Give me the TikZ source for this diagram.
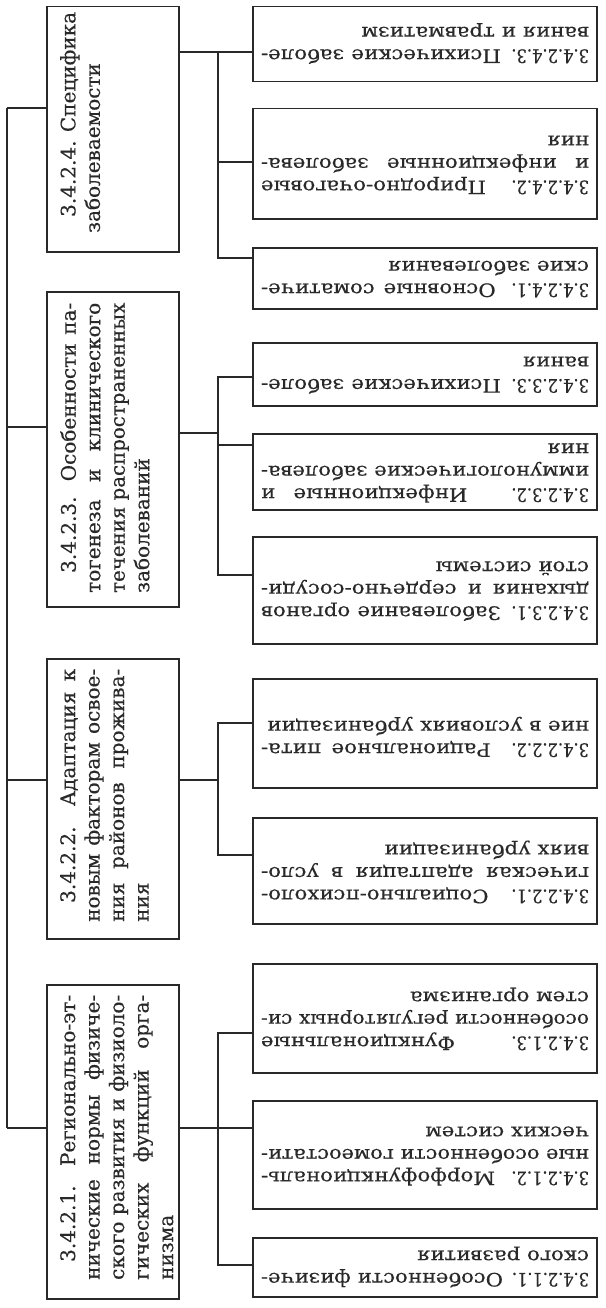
\documentclass[tikz,border=0pt]{standalone}
\usepackage{graphicx}
\usepackage{fontspec}
\setmainfont{DejaVu Serif}[FakeBold=0.35]
\newfontfamily\widef{DejaVu Serif}[FakeStretch=1.15, FakeBold=0.35]
\newfontfamily\numf{DejaVu Serif}[FakeStretch=0.88, FakeBold=0.35]
\definecolor{ink}{gray}{0.16}
\newlength\natw
\newcommand\justline[2][0pt]{\noindent\settowidth\natw{\hspace*{#1}#2}%
  \ifdim\natw>\linewidth\resizebox{\linewidth}{\height}{\hspace*{#1}#2}%
  \else\makebox[\linewidth][s]{\hspace*{#1}#2}\fi\par}
\newcommand\lastline[2][0pt]{\noindent\makebox[\linewidth][l]{\hspace*{#1}#2}\par}
\newcommand\tb[2]{\parbox[t]{#1}{#2}}
\newcommand\num[1]{{\numf #1}}
\newcommand\mkbox[5]{\node[boxnode, minimum width={(#4-#2)*1pt}, minimum height={(#5-#3)*1pt}] (#1) at (#2,#3) {};}
\tikzset{
  boxnode/.style={draw=ink, line width=1.5pt, rectangle, inner sep=0pt, anchor=north west},
  conn/.style={draw=ink, line width=1.5pt},
  ltext/.style={rotate=90, anchor=north west, inner sep=0pt, text=ink,
    font=\fontsize{20}{24.5}\selectfont},
  rtext/.style={rotate=180, anchor=center, inner sep=0pt, text=ink,
    font=\widef\fontsize{18.5}{22.5}\selectfont},
}
\begin{document}
\begin{tikzpicture}[x=1pt, y=-1pt]
\useasboundingbox[fill=white] (0,0) rectangle (605,1308);

% left column boxes
\mkbox{L4}{46}{6}{178}{251}
\mkbox{L3}{46}{291}{178}{606}
\mkbox{L2}{46}{658}{178}{938}
\mkbox{L1}{46}{984}{178}{1298}
% right column boxes
\mkbox{R43}{252}{6}{596}{81}
\mkbox{R42}{252}{108}{596}{218}
\mkbox{R41}{252}{247}{596}{308}
\mkbox{R33}{252}{342}{596}{405}
\mkbox{R32}{252}{433}{596}{509}
\mkbox{R31}{252}{536}{596}{643}
\mkbox{R22}{252}{678}{596}{787}
\mkbox{R21}{252}{817}{596}{923}
\mkbox{R13}{252}{963}{596}{1072}
\mkbox{R12}{252}{1100}{596}{1208}
\mkbox{R11}{252}{1237}{596}{1296}

% left texts
\node[ltext] (L4t) at (60,233) {\tb{225pt}{%
  \lastline[16pt]{3.4.2.4. Специфика}%
  \lastline{заболеваемости}}};
\node[ltext] (L3t) at (60,593) {\tb{290pt}{%
  \justline[20pt]{3.4.2.3. Особенности па-}%
  \justline{тогенеза и клинического}%
  \justline{течения распространенных}%
  \lastline{заболеваний}}};
\node[ltext] (L2t) at (60,922) {\tb{253pt}{%
  \justline[19pt]{3.4.2.2. Адаптация к}%
  \justline{новым факторам освое-}%
  \justline{ния районов прожива-}%
  \lastline{ния}}};
\node[ltext] (L1t) at (60,1280) {\tb{285pt}{%
  \justline[18pt]{3.4.2.1. Регионально-эт-}%
  \justline{нические нормы физиче-}%
  \justline{ского развития и физиоло-}%
  \justline{гических функций орга-}%
  \lastline{низма}}};

% right texts
\node[rtext] (R43t) at (425,43.5) {\tb{328pt}{%
  \justline{\num{3.4.2.4.3.} Психические заболе-}%
  \lastline{вания и травматизм}}};
\node[rtext] (R42t) at (425,165) {\tb{328pt}{%
  \justline{\num{3.4.2.4.2.} Природно-очаговые}%
  \justline{и инфекционные заболева-}%
  \lastline{ния}}};
\node[rtext] (R41t) at (425,279) {\tb{328pt}{%
  \justline{\num{3.4.2.4.1.} Основные соматиче-}%
  \lastline{ские заболевания}}};
\node[rtext] (R33t) at (425,375) {\tb{328pt}{%
  \justline{\num{3.4.2.3.3.} Психические заболе-}%
  \lastline{вания}}};
\node[rtext] (R32t) at (425,473) {\tb{328pt}{%
  \justline{\num{3.4.2.3.2.} Инфекционные и}%
  \justline{иммунологические заболева-}%
  \lastline{ния}}};
\node[rtext] (R31t) at (425,591) {\tb{328pt}{%
  \justline{\num{3.4.2.3.1.} Заболевание органов}%
  \justline{дыхания и сердечно-сосуди-}%
  \lastline{стой системы}}};
\node[rtext] (R22t) at (425,737) {\tb{328pt}{%
  \justline{\num{3.4.2.2.2.} Рациональное пита-}%
  \lastline{ние в условиях урбанизации}}};
\node[rtext] (R21t) at (425,872) {\tb{328pt}{%
  \justline{\num{3.4.2.2.1.} Социально-психоло-}%
  \justline{гическая адаптация в усло-}%
  \lastline{виях урбанизации}}};
\node[rtext] (R13t) at (425,1019) {\tb{328pt}{%
  \justline{\num{3.4.2.1.3.} Функциональные}%
  \justline{особенности регуляторных си-}%
  \lastline{стем организма}}};
\node[rtext] (R12t) at (425,1156) {\tb{328pt}{%
  \justline{\num{3.4.2.1.2.} Морфофункциональ-}%
  \justline{ные особенности гомеостати-}%
  \lastline{ческих систем}}};
\node[rtext] (R11t) at (425,1267) {\tb{328pt}{%
  \justline{\num{3.4.2.1.1.} Особенности физиче-}%
  \lastline{ского развития}}};

% spine coordinates
\coordinate (sp4) at (7,108);
\coordinate (sp3) at (7,427);
\coordinate (sp2) at (7,780);
\coordinate (sp1) at (7,1128);
% hub coordinates
\coordinate (h4t) at (218,52);
\coordinate (h4m) at (218,162);
\coordinate (h4b) at (218,258);
\coordinate (h3t) at (218,377);
\coordinate (h3p) at (218,433);
\coordinate (h3m) at (218,445);
\coordinate (h3b) at (218,575);
\coordinate (h2t) at (218,723);
\coordinate (h2p) at (218,780);
\coordinate (h2b) at (218,855);
\coordinate (h1t) at (218,1033);
\coordinate (h1p) at (218,1128);
\coordinate (h1b) at (218,1265);

% main spine
\draw[conn] (sp4) -- (sp1);
\draw[conn] (sp4) -- (sp4 -| L4.west);
\draw[conn] (sp3) -- (sp3 -| L3.west);
\draw[conn] (sp2) -- (sp2 -| L2.west);
\draw[conn] (sp1) -- (sp1 -| L1.west);

% group 3.4.2.4
\draw[conn] (h4t -| L4.east) -- (h4t -| R43.west);
\draw[conn] (h4t) -- (h4b) -- (h4b -| R41.west);
\draw[conn] (h4m) -- (h4m -| R42.west);
% group 3.4.2.3
\draw[conn] (h3p -| L3.east) -- (h3p);
\draw[conn] (h3t -| R33.west) -- (h3t) -- (h3b) -- (h3b -| R31.west);
\draw[conn] (h3m) -- (h3m -| R32.west);
% group 3.4.2.2
\draw[conn] (h2p -| L2.east) -- (h2p);
\draw[conn] (h2t -| R22.west) -- (h2t) -- (h2b) -- (h2b -| R21.west);
% group 3.4.2.1
\draw[conn] (h1p -| L1.east) -- (h1p -| R12.west);
\draw[conn] (h1t -| R13.west) -- (h1t) -- (h1b) -- (h1b -| R11.west);
\end{tikzpicture}
\end{document}
